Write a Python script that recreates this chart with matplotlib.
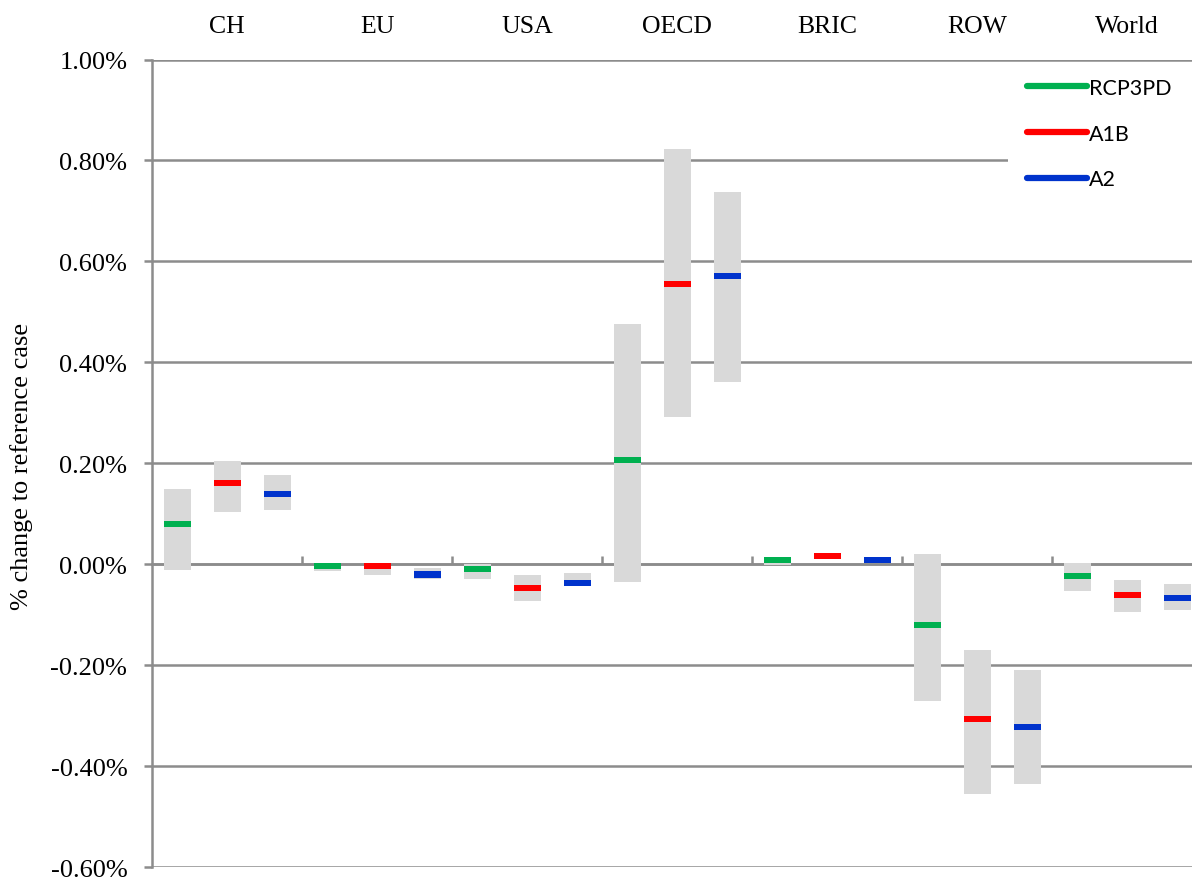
import numpy as np
import matplotlib
matplotlib.use("Agg")
import matplotlib.pyplot as plt
from matplotlib.lines import Line2D
from matplotlib.patches import Rectangle
from matplotlib.ticker import FuncFormatter

# regions and scenarios
regions = ["CH", "EU", "USA", "OECD", "BRIC", "ROW", "World"]
scenarios = ["RCP3PD", "A1B", "A2"]
colors = ["#00B050", "#FF0000", "#0033CC"]

# % change to reference case, one row per region, one column per scenario
mid = np.array([
    [0.080, 0.162, 0.140],
    [-0.003, -0.004, -0.020],
    [-0.009, -0.046, -0.036],
    [0.206, 0.556, 0.572],
    [0.009, 0.017, 0.009],
    [-0.121, -0.307, -0.323],
    [-0.022, -0.060, -0.066],
])
low = np.array([
    [-0.011, 0.104, 0.108],
    [-0.014, -0.021, -0.029],
    [-0.029, -0.073, -0.042],
    [-0.035, 0.291, 0.361],
    [-0.001, 0.014, 0.006],
    [-0.271, -0.455, -0.435],
    [-0.053, -0.095, -0.090],
])
high = np.array([
    [0.150, 0.205, 0.177],
    [0.003, 0.003, -0.007],
    [0.001, -0.021, -0.017],
    [0.476, 0.822, 0.737],
    [0.015, 0.020, 0.012],
    [0.020, -0.169, -0.210],
    [0.003, -0.030, -0.039],
])

grid_c = "#8C8C8C"
serif = ["Liberation Serif", "DejaVu Serif"]

fig = plt.figure(figsize=(11.92, 8.78), dpi=100)
ax = fig.add_axes([152.3 / 1192, 9.7 / 878, 1050 / 1192, 807.8 / 878])

w = 0.18
offs = np.array([1, 3, 5]) / 6
for j in range(3):
    x = np.arange(len(regions)) + offs[j]
    ax.bar(x, high[:, j] - low[:, j], bottom=low[:, j], width=w,
           color="#D9D9D9", zorder=2)
    ax.bar(x, 0.0119, bottom=mid[:, j] - 0.006, width=w,
           color=colors[j], zorder=3)

ax.set_xlim(0, 7)
ax.set_ylim(-0.6, 1.0)
ax.set_yticks(np.arange(-0.6, 1.01, 0.2))
ax.yaxis.set_major_formatter(FuncFormatter(lambda v, p: "{:.2f}%".format(v + 0.0)))
ax.grid(axis="y", color=grid_c, linewidth=1.8, zorder=0)
ax.set_axisbelow(True)

for s in ["top", "right"]:
    ax.spines[s].set_visible(False)
ax.spines["left"].set_color(grid_c)
ax.spines["left"].set_linewidth(1.8)
ax.spines["bottom"].set_position(("data", 0))
ax.spines["bottom"].set_color(grid_c)
ax.spines["bottom"].set_linewidth(1.8)
ax.spines["bottom"].set_zorder(1)

ax.set_xticks(np.arange(1, 7))
ax.tick_params(axis="x", direction="in", length=6, width=1.8, color=grid_c,
               labelbottom=False)
ax.tick_params(axis="y", direction="out", length=6, width=1.8, color=grid_c,
               pad=12, labelsize=19)
for lbl in ax.get_yticklabels():
    lbl.set_family(serif)

for i, r in enumerate(regions):
    ax.text(i + 0.5, 1.0415, r, transform=ax.get_xaxis_transform(),
            ha="center", va="center", fontsize=18.5, family=serif)

fig.text(22 / 1192, 1 - 466 / 878, "% change to reference case", rotation=90,
         ha="center", va="center", fontsize=19, family=serif)

# white legend area covering the gridlines
ax.add_patch(Rectangle((1008 / 1192, 1 - 205 / 878), 190 / 1192, 142 / 878,
                       transform=fig.transFigure, facecolor="white",
                       edgecolor="none", zorder=4, clip_on=False))

handles = [Line2D([], [], color=c, linewidth=4.5, solid_capstyle="round")
           for c in colors]
leg = ax.legend(handles, scenarios, loc="upper left",
                bbox_to_anchor=(1003 / 1192, 1 - 55 / 878),
                bbox_transform=fig.transFigure,
                prop={"family": ["Lato", "DejaVu Sans"], "size": 15.5},
                handlelength=2.8, handletextpad=0.1, labelspacing=1.2,
                borderpad=0.6, frameon=False)
leg.set_zorder(5)

fig.savefig("out.png", dpi=100)
